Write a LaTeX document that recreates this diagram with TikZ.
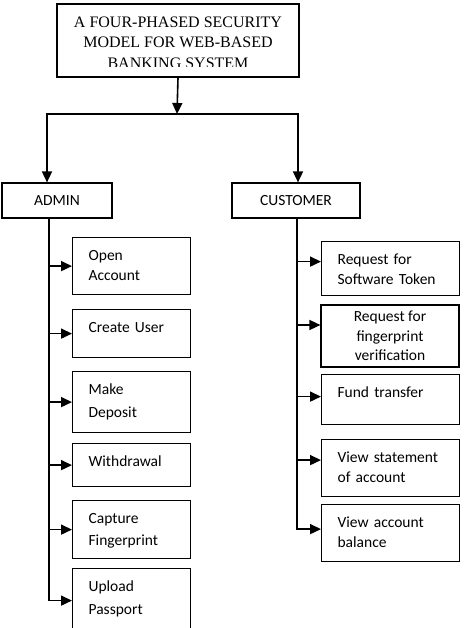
\documentclass[tikz,border=0pt]{standalone}
\usepackage{fontspec}
\usetikzlibrary{arrows.meta}
\newfontfamily\boxfont{Carlito}
\newfontfamily\titlefont{Liberation Serif}
\tikzset{
  box/.style={draw, line width=1.2pt, font=\boxfont\fontsize{15.5}{19.5}\selectfont},
  item/.style={box, anchor=north west, inner xsep=16pt, inner ysep=11pt, text height=12pt},
  line/.style={line width=1.6pt},
}

\begin{document}
\begin{tikzpicture}[x=1pt, y=-1pt, >={Triangle[length=11pt,width=10pt]}]
  \useasboundingbox (0,0) rectangle (464,628);

  % Title box (last line is cut off by the frame)
  \node[draw, line width=1.2pt, minimum width=242pt, minimum height=73pt] (title) at (178,40.5) {};
  \begin{scope}
    \clip (57,4) rectangle (299,66.5);
    \node[font=\titlefont\fontsize{16}{20.5}\selectfont, align=center, anchor=base] (titletext) at (178,68.5)
      {A FOUR-PHASED SECURITY\\MODEL FOR WEB-BASED\\BANKING SYSTEM};
  \end{scope}

  % Two users
  \node[box, minimum width=110pt, minimum height=35pt] (admin) at (57,200.5) {ADMIN};
  \node[box, minimum width=128pt, minimum height=35pt] (customer) at (296,200.5) {CUSTOMER};

  % Split from the title
  \coordinate (split) at (177,114);
  \coordinate (la) at ([xshift=-10pt]admin.north);
  \coordinate (ra) at ([xshift=2pt]customer.north);
  \draw[line, ->] (title.south) -- (split);
  \draw[line, <->] (la) |- (split) -| (ra);

  % Admin tasks
  \node[item, text width=86pt, text depth=23pt] (open) at (72,237) {Open\\Account};
  \node[item, text width=86pt, text depth=14pt] (user) at (72,309) {Create User};
  \node[item, text width=86pt, text depth=27pt] (deposit) at (72,371) {Make\\[3pt]Deposit};
  \node[item, text width=86pt, text depth=9pt] (withdraw) at (72,443) {Withdrawal};
  \node[item, text width=86pt, text depth=24pt] (capture) at (72,500) {Capture\\[2pt]Fingerprint};
  \node[item, text width=86pt, text depth=30pt] (upload) at (72,568) {Upload\\[3pt]Passport};

  % Customer tasks
  \node[item, text width=106pt, text depth=20pt] (token) at (321,241) {Request for\\Software Token};
  \node[box, minimum width=138pt, minimum height=62pt, align=center] (finger) at (390,336)
    {Request for\\fingerprint\\verification};
  \node[item, text width=106pt, text depth=16pt] (fund) at (321,374) {Fund transfer};
  \node[item, text width=106pt, text depth=23pt] (statement) at (321,439) {View statement\\of account};
  \node[item, text width=106pt, text depth=23pt] (balance) at (321,504) {View account\\balance};

  % Admin branch
  \coordinate (at) at ([xshift=-8pt]admin.south);
  \draw[line, ->] (at) |- (upload.west);
  \foreach \b in {open,user,deposit,withdraw,capture}
    \draw[line, ->] (at |- \b.west) -- (\b.west);

  % Customer branch
  \coordinate (ct) at ([xshift=1pt]customer.south);
  \draw[line, ->] (ct) |- ([yshift=4pt]balance.west);
  \foreach \b/\s in {token/7,finger/11,fund/3,statement/8}
    \draw[line, ->] ([yshift=\s pt]\b.west -| ct) -- ([yshift=\s pt]\b.west);
\end{tikzpicture}
\end{document}
